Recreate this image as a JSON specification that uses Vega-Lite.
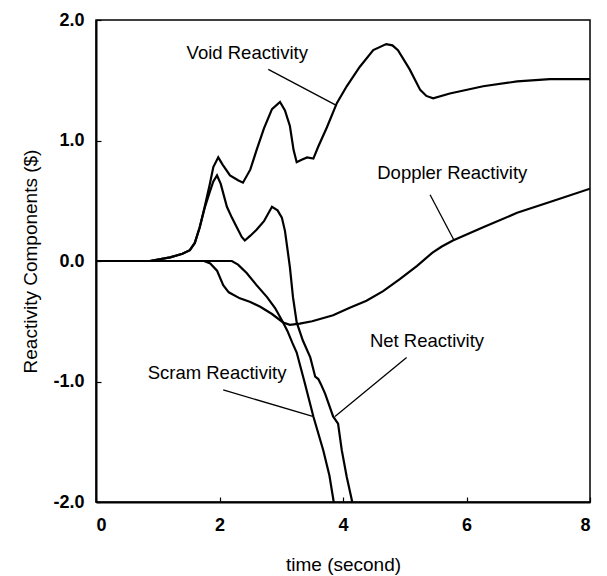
{
  "$schema": "https://vega.github.io/schema/vega-lite/v6.json",
  "width": 494,
  "height": 482,
  "autosize": "none",
  "padding": {"left": 96, "top": 20, "right": 17, "bottom": 74},
  "background": "white",
  "config": {
    "view": {"stroke": "black", "strokeWidth": 1.5},
    "font": "Liberation Sans",
    "axis": {
      "grid": false,
      "domainColor": "black",
      "domainWidth": 2,
      "tickColor": "black",
      "tickSize": -5,
      "tickWidth": 1.2,
      "labelFont": "Liberation Sans",
      "labelFontSize": 18,
      "labelFontWeight": "bold",
      "labelColor": "black",
      "titleFont": "Liberation Sans",
      "titleFontSize": 19,
      "titleFontWeight": "normal",
      "titleColor": "black"
    }
  },
  "datasets": {
    "curves": [
      {"s": "Void", "t": 0, "r": 0}, {"s": "Void", "t": 0.87, "r": 0}, {"s": "Void", "t": 1.2, "r": 0.03}, {"s": "Void", "t": 1.4, "r": 0.06},
      {"s": "Void", "t": 1.52, "r": 0.09}, {"s": "Void", "t": 1.6, "r": 0.15}, {"s": "Void", "t": 1.68, "r": 0.28}, {"s": "Void", "t": 1.76, "r": 0.45},
      {"s": "Void", "t": 1.84, "r": 0.63}, {"s": "Void", "t": 1.9, "r": 0.78}, {"s": "Void", "t": 1.98, "r": 0.86}, {"s": "Void", "t": 2.05, "r": 0.8},
      {"s": "Void", "t": 2.17, "r": 0.71}, {"s": "Void", "t": 2.3, "r": 0.67}, {"s": "Void", "t": 2.38, "r": 0.65}, {"s": "Void", "t": 2.5, "r": 0.76},
      {"s": "Void", "t": 2.6, "r": 0.92}, {"s": "Void", "t": 2.72, "r": 1.1}, {"s": "Void", "t": 2.85, "r": 1.26}, {"s": "Void", "t": 2.98, "r": 1.32},
      {"s": "Void", "t": 3.06, "r": 1.25}, {"s": "Void", "t": 3.14, "r": 1.12}, {"s": "Void", "t": 3.2, "r": 0.92}, {"s": "Void", "t": 3.25, "r": 0.82},
      {"s": "Void", "t": 3.33, "r": 0.84}, {"s": "Void", "t": 3.42, "r": 0.86}, {"s": "Void", "t": 3.52, "r": 0.85}, {"s": "Void", "t": 3.6, "r": 0.95},
      {"s": "Void", "t": 3.74, "r": 1.11}, {"s": "Void", "t": 3.9, "r": 1.31}, {"s": "Void", "t": 4.06, "r": 1.45}, {"s": "Void", "t": 4.27, "r": 1.61},
      {"s": "Void", "t": 4.49, "r": 1.75}, {"s": "Void", "t": 4.7, "r": 1.8}, {"s": "Void", "t": 4.8, "r": 1.79}, {"s": "Void", "t": 4.89, "r": 1.75},
      {"s": "Void", "t": 5.08, "r": 1.59}, {"s": "Void", "t": 5.25, "r": 1.42}, {"s": "Void", "t": 5.35, "r": 1.37}, {"s": "Void", "t": 5.46, "r": 1.35},
      {"s": "Void", "t": 5.73, "r": 1.39}, {"s": "Void", "t": 6.27, "r": 1.45}, {"s": "Void", "t": 6.82, "r": 1.49}, {"s": "Void", "t": 7.35, "r": 1.51},
      {"s": "Void", "t": 8, "r": 1.51},
      {"s": "Net", "t": 0, "r": 0}, {"s": "Net", "t": 0.87, "r": 0}, {"s": "Net", "t": 1.2, "r": 0.03}, {"s": "Net", "t": 1.4, "r": 0.06},
      {"s": "Net", "t": 1.52, "r": 0.09}, {"s": "Net", "t": 1.6, "r": 0.15}, {"s": "Net", "t": 1.68, "r": 0.28}, {"s": "Net", "t": 1.76, "r": 0.44},
      {"s": "Net", "t": 1.84, "r": 0.57}, {"s": "Net", "t": 1.9, "r": 0.66}, {"s": "Net", "t": 1.96, "r": 0.71}, {"s": "Net", "t": 2.02, "r": 0.64},
      {"s": "Net", "t": 2.12, "r": 0.45}, {"s": "Net", "t": 2.2, "r": 0.36}, {"s": "Net", "t": 2.28, "r": 0.28}, {"s": "Net", "t": 2.36, "r": 0.2},
      {"s": "Net", "t": 2.41, "r": 0.17}, {"s": "Net", "t": 2.5, "r": 0.21}, {"s": "Net", "t": 2.6, "r": 0.26}, {"s": "Net", "t": 2.72, "r": 0.33},
      {"s": "Net", "t": 2.85, "r": 0.45}, {"s": "Net", "t": 2.94, "r": 0.42}, {"s": "Net", "t": 3.01, "r": 0.36}, {"s": "Net", "t": 3.06, "r": 0.25},
      {"s": "Net", "t": 3.1, "r": 0.1}, {"s": "Net", "t": 3.14, "r": -0.05}, {"s": "Net", "t": 3.19, "r": -0.3}, {"s": "Net", "t": 3.25, "r": -0.51},
      {"s": "Net", "t": 3.35, "r": -0.66}, {"s": "Net", "t": 3.47, "r": -0.8}, {"s": "Net", "t": 3.55, "r": -0.96}, {"s": "Net", "t": 3.6, "r": -0.98},
      {"s": "Net", "t": 3.64, "r": -1.02}, {"s": "Net", "t": 3.71, "r": -1.1}, {"s": "Net", "t": 3.84, "r": -1.29}, {"s": "Net", "t": 3.92, "r": -1.35},
      {"s": "Net", "t": 3.98, "r": -1.57}, {"s": "Net", "t": 4.06, "r": -1.79}, {"s": "Net", "t": 4.15, "r": -2.0},
      {"s": "Doppler", "t": 0, "r": 0}, {"s": "Doppler", "t": 1.75, "r": 0}, {"s": "Doppler", "t": 1.85, "r": -0.02}, {"s": "Doppler", "t": 1.96, "r": -0.08},
      {"s": "Doppler", "t": 2.06, "r": -0.2}, {"s": "Doppler", "t": 2.15, "r": -0.26}, {"s": "Doppler", "t": 2.33, "r": -0.31}, {"s": "Doppler", "t": 2.5, "r": -0.34},
      {"s": "Doppler", "t": 2.66, "r": -0.38}, {"s": "Doppler", "t": 2.85, "r": -0.44}, {"s": "Doppler", "t": 3.03, "r": -0.51}, {"s": "Doppler", "t": 3.14, "r": -0.53},
      {"s": "Doppler", "t": 3.3, "r": -0.52}, {"s": "Doppler", "t": 3.5, "r": -0.5}, {"s": "Doppler", "t": 3.84, "r": -0.45}, {"s": "Doppler", "t": 4.1, "r": -0.39},
      {"s": "Doppler", "t": 4.38, "r": -0.33}, {"s": "Doppler", "t": 4.65, "r": -0.25}, {"s": "Doppler", "t": 4.92, "r": -0.15}, {"s": "Doppler", "t": 5.2, "r": -0.04},
      {"s": "Doppler", "t": 5.45, "r": 0.07}, {"s": "Doppler", "t": 5.6, "r": 0.12}, {"s": "Doppler", "t": 5.78, "r": 0.17}, {"s": "Doppler", "t": 6.27, "r": 0.28},
      {"s": "Doppler", "t": 6.82, "r": 0.4}, {"s": "Doppler", "t": 7.35, "r": 0.49}, {"s": "Doppler", "t": 8, "r": 0.6},
      {"s": "Scram", "t": 0, "r": 0}, {"s": "Scram", "t": 2.2, "r": 0}, {"s": "Scram", "t": 2.3, "r": -0.03}, {"s": "Scram", "t": 2.44, "r": -0.1},
      {"s": "Scram", "t": 2.6, "r": -0.2}, {"s": "Scram", "t": 2.77, "r": -0.3}, {"s": "Scram", "t": 2.9, "r": -0.39}, {"s": "Scram", "t": 3.03, "r": -0.51},
      {"s": "Scram", "t": 3.1, "r": -0.58}, {"s": "Scram", "t": 3.18, "r": -0.68}, {"s": "Scram", "t": 3.25, "r": -0.76}, {"s": "Scram", "t": 3.38, "r": -1.01},
      {"s": "Scram", "t": 3.52, "r": -1.29}, {"s": "Scram", "t": 3.68, "r": -1.57}, {"s": "Scram", "t": 3.78, "r": -1.78}, {"s": "Scram", "t": 3.85, "r": -2.0}
    ],
    "pointers": [
      {"name": "Void", "t1": 2.79, "r1": 1.59, "t2": 3.9, "r2": 1.29},
      {"name": "Doppler", "t1": 5.41, "r1": 0.55, "t2": 5.8, "r2": 0.17},
      {"name": "Net", "t1": 5.03, "r1": -0.8, "t2": 3.87, "r2": -1.29},
      {"name": "Scram", "t1": 2.06, "r1": -1.07, "t2": 3.51, "r2": -1.29}
    ],
    "labels": [
      {"text": "Void Reactivity", "t": 2.45, "r": 1.73},
      {"text": "Doppler Reactivity", "t": 5.77, "r": 0.73},
      {"text": "Net Reactivity", "t": 5.36, "r": -0.66},
      {"text": "Scram Reactivity", "t": 1.96, "r": -0.93}
    ]
  },
  "layer": [
    {
      "data": {"name": "curves"},
      "mark": {"type": "line", "color": "black", "strokeWidth": 2.2, "clip": true},
      "encoding": {
        "x": {"field": "t", "type": "quantitative", "scale": {"domain": [0, 8], "nice": false},
              "axis": {"values": [0, 2, 4, 6, 8], "format": "d", "title": "time (second)", "labelPadding": 19, "titlePadding": 21, "labelFontWeight": "bold"}},
        "y": {"field": "r", "type": "quantitative", "scale": {"domain": [-2, 2], "nice": false},
              "axis": {"values": [-2, -1, 0, 1, 2], "labelExpr": "datum.value < 0 ? '-' + format(-datum.value, '.1f') : format(datum.value, '.1f')", "title": "Reactivity Components ($)", "labelPadding": 17, "titlePadding": 12, "labelFontWeight": "bold"}},
        "detail": {"field": "s"}
      }
    },
    {
      "data": {"name": "pointers"},
      "mark": {"type": "rule", "color": "black", "strokeWidth": 1.3},
      "encoding": {
        "x": {"field": "t1", "type": "quantitative"},
        "y": {"field": "r1", "type": "quantitative"},
        "x2": {"field": "t2"},
        "y2": {"field": "r2"}
      }
    },
    {
      "data": {"name": "labels"},
      "mark": {"type": "text", "font": "Liberation Sans", "fontSize": 18.5, "color": "black", "align": "center", "baseline": "middle"},
      "encoding": {
        "x": {"field": "t", "type": "quantitative"},
        "y": {"field": "r", "type": "quantitative"},
        "text": {"field": "text"}
      }
    }
  ]
}
